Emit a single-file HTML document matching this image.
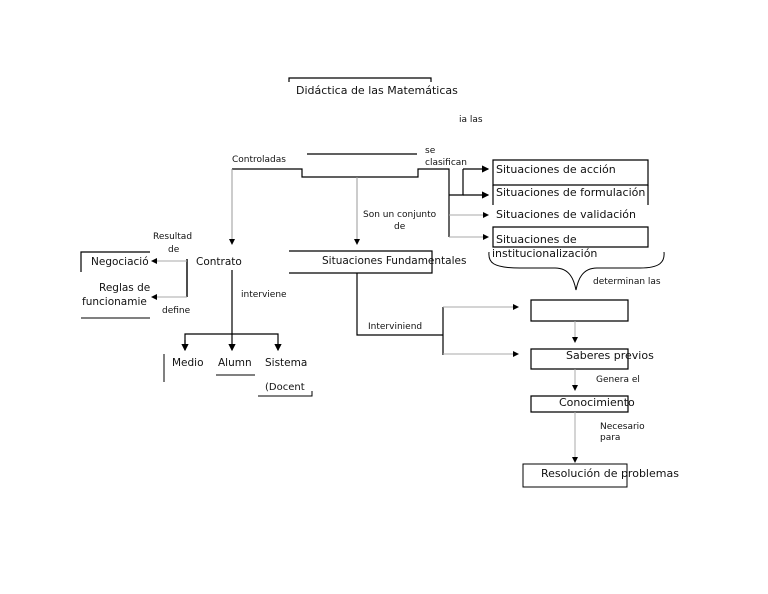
<!DOCTYPE html>
<html><head><meta charset="utf-8"><style>
html,body{margin:0;padding:0;background:#fff;}
svg{display:block;}
text{font-family:"DejaVu Sans","Liberation Sans",sans-serif;font-size:10px;fill:#111;}
</style></head><body>
<svg width="768" height="594" viewBox="0 0 768 594" xmlns="http://www.w3.org/2000/svg">
<defs>
<marker id="a" markerWidth="6" markerHeight="6" refX="5" refY="3" orient="auto"><path d="M0,0 L6,3 L0,6z" fill="#000"/></marker>
</defs>
<g fill="none" stroke="#000" stroke-width="1.2">
<path d="M289,82 V78 H431 V82"/>
<path d="M307,154 H417"/>
<path d="M232,169 H302 V177 H418 V169 H449 V237"/>
<path d="M463,169 V195 H449"/>
<path d="M463,169 H488" marker-end="url(#a)"/>
<path d="M463,195 H488" marker-end="url(#a)"/>
<path d="M232,169 V244" stroke="#999" stroke-width="1" marker-end="url(#a)"/>
<path d="M357,177 V244" stroke="#999" stroke-width="1" marker-end="url(#a)"/>
<path d="M449,215 H488" stroke="#aaa" stroke-width="1" marker-end="url(#a)"/>
<path d="M449,237 H488" stroke="#aaa" stroke-width="1" marker-end="url(#a)"/>
<path d="M493,160 H648 V185 H493 Z"/>
<path d="M493,185 V205 M648,185 V205"/>
<path d="M493,227 H648 V247 H493 Z"/>
<path d="M489,252 C488,262 492,268 520,268 L555,268 C570,268 574,280 576,290 C578,280 582,268 597,268 L640,268 C660,268 665,262 664,252" stroke-width="1"/>
<path d="M289,251 H432 V273 H289"/>
<path d="M150,252 H81 V272"/>
<path d="M187,259 V297" stroke-width="1.4"/>
<path d="M187,261 H152" stroke="#aaa" stroke-width="1" marker-end="url(#a)"/>
<path d="M187,297 H152" stroke="#aaa" stroke-width="1" marker-end="url(#a)"/>
<path d="M81,318 H150" stroke-width="1"/>
<path d="M232,270 V350" marker-end="url(#a)"/>
<path d="M185,350 V334 H278 V350" marker-end="url(#a)"/>
<path d="M185,340 V350" marker-end="url(#a)"/>
<path d="M164,354 V382 M216,375 H255 M258,396 H312 V391" stroke-width="1"/>
<path d="M357,273 V335 H443 M443,307 V355"/>
<path d="M443,307 H518" stroke="#aaa" stroke-width="1" marker-end="url(#a)"/>
<path d="M443,354 H518" stroke="#aaa" stroke-width="1" marker-end="url(#a)"/>
<path d="M531,300 H628 V321 H531 Z"/>
<path d="M575,321 V342" stroke="#aaa" stroke-width="1" marker-end="url(#a)"/>
<path d="M531,349 H628 V369 H531 Z"/>
<path d="M575,369 V390" stroke="#aaa" stroke-width="1" marker-end="url(#a)"/>
<path d="M531,396 H628 V412 H531 Z"/>
<path d="M575,412 V462" stroke="#aaa" stroke-width="1" marker-end="url(#a)"/>
<path d="M523,464 H627 V487 H523 Z" stroke-width="1"/>
</g>
<text x="296" y="94" style="font-size:11px">Didáctica de las Matemáticas</text>
<text x="459" y="122" style="font-size:9px">ia las</text>
<text x="425" y="153" style="font-size:9px">se</text>
<text x="425" y="165" style="font-size:9px">clasifican</text>
<text x="232" y="162" style="font-size:9px">Controladas</text>
<text x="363" y="217" style="font-size:9px">Son un conjunto</text>
<text x="394" y="229" style="font-size:9px">de</text>
<text x="496" y="173" style="font-size:11px">Situaciones de acción</text>
<text x="496" y="196" style="font-size:11px">Situaciones de formulación</text>
<text x="496" y="218" style="font-size:11px">Situaciones de validación</text>
<text x="496" y="243" style="font-size:11px">Situaciones de</text>
<text x="492" y="257" style="font-size:11px">institucionalización</text>
<text x="593" y="284" style="font-size:9px">determinan las</text>
<text x="153" y="239" style="font-size:9px">Resultad</text>
<text x="168" y="252" style="font-size:9px">de</text>
<text x="91" y="265" style="font-size:10.5px">Negociació</text>
<text x="196" y="265" style="font-size:10.5px">Contrato</text>
<text x="322" y="264" style="font-size:10.5px">Situaciones Fundamentales</text>
<text x="99" y="291" style="font-size:10.5px">Reglas de</text>
<text x="82" y="305" style="font-size:10.5px">funcionamie</text>
<text x="162" y="313" style="font-size:9px">define</text>
<text x="241" y="297" style="font-size:9px">interviene</text>
<text x="368" y="329" style="font-size:9px">Interviniend</text>
<text x="172" y="366" style="font-size:10.5px">Medio</text>
<text x="218" y="366" style="font-size:10.5px">Alumn</text>
<text x="265" y="366" style="font-size:10.5px">Sistema</text>
<text x="265" y="390" style="font-size:10px">(Docent</text>
<text x="566" y="359" style="font-size:11px">Saberes previos</text>
<text x="596" y="382" style="font-size:9px">Genera el</text>
<text x="559" y="406" style="font-size:11px">Conocimiento</text>
<text x="600" y="429" style="font-size:9px">Necesario</text>
<text x="600" y="440" style="font-size:9px">para</text>
<text x="541" y="477" style="font-size:11px">Resolución de problemas</text>
</svg>
</body></html>
